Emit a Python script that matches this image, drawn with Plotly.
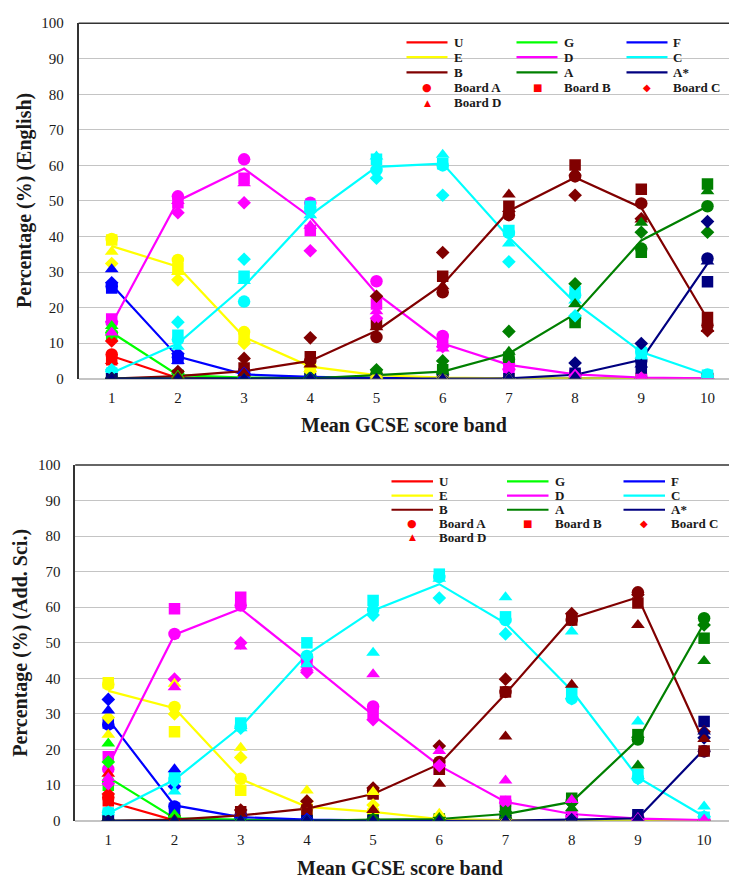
import plotly.graph_objects as go

W, H = 729, 886

BANDS = list(range(1, 11))
GRADES = ["U", "G", "F", "E", "D", "C", "B", "A", "A*"]
GRADE_COLORS = ["#ff0000", "#00ff00", "#0000ff", "#ffff00", "#ff00ff",
                "#00ffff", "#800000", "#008000", "#000080"]
BOARDS = ["Board A", "Board B", "Board C", "Board D"]
BOARD_SYMBOLS = ["circle", "square", "diamond", "triangle-up"]
BOARD_SIZES = [12.5, 11.5, 10.5, 12]
Y_TICKS = list(range(0, 101, 10))

# English, % of candidates per grade by mean GCSE score band.
# Rows: all boards (line), Board A, Board B, Board C, Board D
ENG_U = [[6.4, 0.2, 0, 0, 0, 0, 0, 0, 0, 0],
         [6.8, 0.3, 0, 0, 0, 0, 0, 0, 0, 0],
         [5.3, 0.2, 0, 0, 0, 0, 0, 0, 0, 0],
         [10.6, 0.5, 0, 0, 0, 0, 0, 0, 0, 0],
         [5.0, 0.2, 0, 0, 0, 0, 0, 0, 0, 0]]
ENG_G = [[13.0, 1.0, 0.3, 0.1, 0, 0, 0, 0, 0, 0],
         [12.6, 1.2, 0.3, 0.1, 0, 0, 0, 0, 0, 0],
         [12.0, 1.0, 0.3, 0.1, 0, 0, 0, 0, 0, 0],
         [13.0, 1.5, 0.4, 0.1, 0, 0, 0, 0, 0, 0],
         [14.8, 0.8, 0.2, 0.1, 0, 0, 0, 0, 0, 0]]
ENG_F = [[26.4, 6.2, 1.2, 0.5, 0.2, 0.1, 0, 0, 0, 0],
         [26.0, 6.0, 1.0, 0.4, 0.1, 0, 0, 0, 0, 0],
         [25.5, 5.7, 1.3, 0.5, 0.2, 0, 0, 0, 0, 0],
         [27.0, 7.0, 1.5, 0.6, 0.2, 0, 0, 0, 0, 0],
         [30.8, 5.0, 0.8, 0.3, 0.1, 0, 0, 0, 0, 0]]
ENG_E = [[37.3, 31.5, 11.7, 3.4, 1.0, 0.3, 0.1, 0, 0, 0],
         [39.3, 33.4, 13.1, 3.5, 1.2, 0.3, 0, 0, 0, 0],
         [39.0, 31.0, 12.0, 2.5, 0.8, 0.2, 0, 0, 0, 0],
         [32.4, 27.8, 9.9, 2.0, 0.5, 0.2, 0, 0, 0, 0],
         [35.7, 30.0, 11.0, 2.8, 0.7, 0.2, 0, 0, 0, 0]]
ENG_D = [[15.4, 50.0, 59.1, 45.5, 24.0, 9.9, 3.9, 1.2, 0.3, 0.1],
         [15.8, 51.3, 61.7, 49.5, 27.4, 12.0, 4.3, 1.5, 0.4, 0],
         [16.8, 49.5, 56.4, 41.7, 21.0, 10.5, 3.0, 1.0, 0.2, 0],
         [16.0, 46.7, 49.5, 36.0, 17.0, 9.0, 2.5, 0.8, 0.1, 0],
         [13.0, 50.0, 55.0, 43.0, 19.0, 8.5, 3.5, 1.2, 0.3, 0]]
ENG_C = [[1.6, 9.9, 26.0, 46.0, 59.6, 60.5, 39.8, 21.4, 7.5, 1.1],
         [2.0, 11.0, 21.7, 48.0, 58.7, 60.0, 41.0, 23.5, 7.5, 1.2],
         [1.5, 12.2, 28.8, 48.5, 61.7, 60.5, 41.7, 24.5, 7.0, 1.0],
         [2.5, 15.9, 33.6, 47.0, 56.4, 51.6, 32.9, 17.7, 8.5, 0.8],
         [2.8, 9.0, 27.5, 46.0, 62.5, 63.0, 38.0, 22.0, 6.5, 1.0]]
ENG_B = [[0, 0.7, 2.1, 5.0, 13.5, 26.5, 47.2, 56.6, 48.1, 16.8],
         [0, 0.5, 2.0, 5.0, 11.7, 24.3, 46.0, 56.9, 49.3, 15.0],
         [0, 0.8, 3.0, 6.2, 15.4, 28.8, 48.5, 60.1, 53.3, 17.2],
         [0, 2.0, 5.7, 11.5, 23.2, 35.5, 47.0, 51.6, 45.0, 13.5],
         [0, 0.5, 1.5, 4.0, 14.5, 26.0, 51.8, 58.0, 44.8, 14.0]]
ENG_A = [[0, 0, 0, 0.1, 1.0, 2.0, 7.1, 18.2, 38.9, 48.5],
         [0, 0, 0, 0.1, 1.0, 1.5, 5.5, 17.0, 36.6, 48.5],
         [0, 0, 0, 0.1, 1.0, 2.5, 6.0, 15.8, 35.6, 54.8],
         [0, 0, 0, 0.3, 2.5, 5.0, 13.3, 26.7, 41.2, 41.2],
         [0, 0, 0, 0.1, 2.0, 2.0, 7.6, 21.0, 43.9, 52.7]]
ENG_ASTAR = [[0, 0, 0, 0, 0, 0, 0.1, 1.1, 5.3, 32.4],
             [0, 0, 0, 0, 0, 0, 0, 1.0, 5.0, 33.8],
             [0, 0, 0, 0, 0, 0, 0, 1.5, 3.0, 27.3],
             [0, 0, 0, 0, 0, 0, 0.2, 4.4, 9.9, 44.2],
             [0, 0, 0, 0, 0, 0, 0, 0.5, 4.0, 33.0]]

# Additional Science, same layout.
SCI_U = [[5.4, 0.1, 0, 0, 0, 0, 0, 0, 0, 0],
         [6.5, 0.2, 0, 0, 0, 0, 0, 0, 0, 0],
         [5.6, 0.1, 0, 0, 0, 0, 0, 0, 0, 0],
         [7.5, 0.2, 0, 0, 0, 0, 0, 0, 0, 0],
         [13.2, 0.3, 0, 0, 0, 0, 0, 0, 0, 0]]
SCI_G = [[12.2, 0.7, 0.3, 0.1, 0, 0, 0, 0, 0, 0],
         [11.0, 0.5, 0.3, 0.1, 0, 0, 0, 0, 0, 0],
         [10.0, 0.5, 0.2, 0.1, 0, 0, 0, 0, 0, 0],
         [16.5, 1.0, 0.4, 0.1, 0, 0, 0, 0, 0, 0],
         [21.7, 1.7, 0.3, 0.1, 0, 0, 0, 0, 0, 0]]
SCI_F = [[28.5, 4.3, 1.0, 0.3, 0.1, 0, 0, 0, 0, 0],
         [27.0, 4.0, 1.0, 0.3, 0.1, 0, 0, 0, 0, 0],
         [27.5, 3.5, 1.2, 0.3, 0.1, 0, 0, 0, 0, 0],
         [34.1, 9.6, 1.5, 0.4, 0.1, 0, 0, 0, 0, 0],
         [31.0, 14.5, 1.5, 0.3, 0.1, 0, 0, 0, 0, 0]]
SCI_E = [[36.5, 31.6, 11.7, 3.9, 2.5, 0.5, 0.2, 0.1, 0, 0],
         [38.3, 32.0, 11.8, 4.0, 2.5, 0.5, 0.2, 0, 0, 0],
         [38.8, 25.0, 8.6, 3.0, 2.0, 0.3, 0.1, 0, 0, 0],
         [29.0, 30.0, 17.8, 5.5, 4.4, 0.8, 0.2, 0, 0, 0],
         [24.2, 38.5, 20.5, 8.5, 8.1, 2.0, 0.3, 0, 0, 0]]
SCI_D = [[15.5, 52.3, 59.6, 44.8, 29.7, 15.5, 5.3, 1.9, 0.6, 0.2],
         [14.5, 52.5, 60.5, 45.5, 32.1, 15.5, 5.3, 1.5, 0.5, 0.2],
         [18.0, 59.6, 62.8, 44.5, 30.3, 14.5, 5.5, 1.5, 0.6, 0.1],
         [10.4, 39.8, 50.0, 41.7, 28.4, 15.5, 5.0, 1.2, 0.4, 0.2],
         [12.0, 37.5, 49.0, 43.0, 41.2, 19.6, 11.3, 5.8, 0.8, 0.3]]
SCI_C = [[2.1, 11.5, 26.4, 46.7, 59.1, 66.5, 55.5, 36.6, 12.2, 1.2],
         [2.4, 11.7, 26.5, 46.3, 59.2, 68.5, 56.4, 34.3, 12.0, 1.0],
         [2.2, 12.3, 27.5, 50.0, 61.9, 69.3, 57.3, 36.2, 13.0, 1.0],
         [2.4, 11.0, 26.0, 46.0, 57.8, 62.6, 52.5, 34.3, 11.8, 1.2],
         [2.4, 8.2, 26.0, 44.0, 47.2, 68.0, 62.8, 53.2, 27.9, 4.0]]
SCI_B = [[0, 0.3, 1.5, 3.4, 7.5, 15.9, 35.7, 56.9, 62.8, 22.0],
         [0, 0.2, 1.5, 3.4, 8.5, 16.5, 36.2, 56.4, 64.2, 19.5],
         [0, 0.3, 2.5, 3.0, 7.5, 14.5, 36.2, 56.4, 61.2, 19.6],
         [0, 0.5, 3.0, 5.5, 9.2, 21.0, 39.8, 58.2, 63.5, 25.0],
         [0, 0.3, 2.0, 4.5, 3.0, 10.4, 23.7, 38.2, 55.0, 23.0]]
SCI_A = [[0, 0, 0, 0, 0.3, 0.5, 1.9, 5.3, 22.8, 55.5],
         [0, 0, 0, 0, 0.3, 0.5, 1.5, 5.5, 22.8, 56.9],
         [0, 0, 0, 0, 0.3, 0.5, 3.0, 6.3, 24.2, 51.3],
         [0, 0, 0, 0, 0.5, 1.0, 2.5, 5.0, 23.5, 55.0],
         [0, 0, 0, 0, 0.5, 0.8, 1.5, 3.5, 15.5, 44.9]]
SCI_ASTAR = [[0, 0, 0, 0, 0, 0, 0, 0.3, 0.7, 20.1],
             [0, 0, 0, 0, 0, 0, 0, 0.2, 0.5, 19.5],
             [0, 0, 0, 0, 0, 0, 0, 0.3, 1.7, 27.9],
             [0, 0, 0, 0, 0, 0, 0, 0.3, 1.0, 23.3],
             [0, 0, 0, 0, 0, 0, 0, 0.2, 0.5, 25.1]]

ENGLISH = [ENG_U, ENG_G, ENG_F, ENG_E, ENG_D, ENG_C, ENG_B, ENG_A, ENG_ASTAR]
ADD_SCI = [SCI_U, SCI_G, SCI_F, SCI_E, SCI_D, SCI_C, SCI_B, SCI_A, SCI_ASTAR]

SERIF = "Liberation Serif, Times New Roman, serif"
TEXT = "#1a1a1a"
GRID = "#c4c4c4"
FRAME = "#333333"


def fx(p):
    return p / W


def fy(p):
    return 1 - p / H


# Pixel geometry of each panel (plot box and legend block)
PANELS = [
    dict(data=ENGLISH, ytitle="Percentage (%) (English)", left=78.6, top=15.5,
         bottom=377.5, xmax=10.325, xtitle_x=404, xtitle_y=425, ytitle_x=25,
         leg_rows=[35, 50, 65.5, 81, 96.5], leg_x0=[406.5, 516.5, 626.5],
         leg_len=41, leg_text=[451.5, 561.5, 671]),
    dict(data=ADD_SCI, ytitle="Percentage (%) (Add. Sci.)", left=75.2, top=465.3,
         bottom=827.7, xmax=10.376, xtitle_x=400, xtitle_y=875.5, ytitle_x=21,
         leg_rows=[482, 496.5, 511, 525, 539], leg_x0=[391.5, 507, 623.5],
         leg_len=41.5, leg_text=[437, 553, 669]),
]

LEGEND_ITEMS = [(g, "line", c) for g, c in zip(GRADES, GRADE_COLORS)] + \
               [(b, "marker", s) for b, s in zip(BOARDS, ["●", "■", "◆", "▲"])]
LEGEND_GLYPH_SIZE = {"●": 11, "■": 10, "◆": 10, "▲": 9}

fig = go.Figure()
shapes = []
annotations = []

for i, pnl in enumerate(PANELS):
    n = "" if i == 0 else str(i + 1)
    xa, ya = "x" + n, "y" + n

    # all-board lines first, then each board's markers on top
    for grade, color, rows in zip(GRADES, GRADE_COLORS, pnl["data"]):
        fig.add_trace(go.Scatter(
            x=BANDS, y=rows[0], mode="lines", name=grade,
            line=dict(color=color, width=2.2), xaxis=xa, yaxis=ya,
            showlegend=False, hoverinfo="x+y+name"))
    for b, (board, sym, size) in enumerate(zip(BOARDS, BOARD_SYMBOLS, BOARD_SIZES)):
        for grade, color, rows in zip(GRADES, GRADE_COLORS, pnl["data"]):
            fig.add_trace(go.Scatter(
                x=BANDS, y=rows[b + 1], mode="markers", name=f"{board} {grade}",
                marker=dict(symbol=sym, size=size, color=color, line=dict(width=0)),
                xaxis=xa, yaxis=ya, showlegend=False))

    x_dom = [fx(pnl["left"]), 1]
    y_dom = [fy(pnl["bottom"]), fy(pnl["top"])]
    axis_font = dict(family=SERIF, size=15, color=TEXT)
    fig.update_layout(**{
        "xaxis" + n: dict(domain=x_dom, range=[0.5, pnl["xmax"]], anchor=ya,
                          tickmode="array", tickvals=BANDS, ticktext=[str(v) for v in BANDS],
                          showgrid=False, zeroline=False, showline=False,
                          ticks="", tickfont=axis_font, ticklabelstandoff=8),
        "yaxis" + n: dict(domain=y_dom, range=[0, 100], anchor=xa,
                          tickmode="array", tickvals=Y_TICKS,
                          showgrid=True, gridcolor=GRID, gridwidth=1.3,
                          zeroline=True, zerolinecolor=GRID, zerolinewidth=1.6,
                          showline=True, linecolor=FRAME, linewidth=1.5,
                          ticks="", tickfont=axis_font, ticklabelstandoff=10),
    })

    # top edge of the plot box
    shapes.append(dict(type="line", xref="paper", yref="paper",
                       x0=x_dom[0], x1=1, y0=y_dom[1], y1=y_dom[1],
                       line=dict(color=FRAME, width=1.5)))

    annotations.append(dict(text="<b>Mean GCSE score band</b>", xref="paper", yref="paper",
                            x=fx(pnl["xtitle_x"]), y=fy(pnl["xtitle_y"]),
                            xanchor="center", yanchor="middle", showarrow=False,
                            font=dict(family=SERIF, size=20, color=TEXT)))
    annotations.append(dict(text="<b>" + pnl["ytitle"] + "</b>", xref="paper", yref="paper",
                            x=fx(pnl["ytitle_x"]), y=(y_dom[0] + y_dom[1]) / 2,
                            xanchor="center", yanchor="middle", textangle=-90,
                            showarrow=False,
                            font=dict(family=SERIF, size=20, color=TEXT)))

    # legend block: three columns, filled row by row
    for k, (label, kind, style) in enumerate(LEGEND_ITEMS):
        row, col = divmod(k, 3)
        yy = fy(pnl["leg_rows"][row])
        x0 = pnl["leg_x0"][col]
        if kind == "line":
            shapes.append(dict(type="line", xref="paper", yref="paper",
                               x0=fx(x0), x1=fx(x0 + pnl["leg_len"]), y0=yy, y1=yy,
                               line=dict(color=style, width=2.2)))
        else:
            annotations.append(dict(text=style, xref="paper", yref="paper",
                                    x=fx(x0 + pnl["leg_len"] / 2), y=yy,
                                    xanchor="center", yanchor="middle", showarrow=False,
                                    font=dict(family="DejaVu Sans", size=LEGEND_GLYPH_SIZE[style],
                                              color="#ff0000")))
        annotations.append(dict(text="<b>" + label + "</b>", xref="paper", yref="paper",
                                x=fx(pnl["leg_text"][col]), y=yy,
                                xanchor="left", yanchor="middle", showarrow=False,
                                font=dict(family=SERIF, size=13, color=TEXT)))

fig.update_layout(
    width=W, height=H, margin=dict(l=0, r=0, t=0, b=0),
    paper_bgcolor="white", plot_bgcolor="white",
    showlegend=False, shapes=shapes, annotations=annotations,
)

fig.write_html("out.html")
